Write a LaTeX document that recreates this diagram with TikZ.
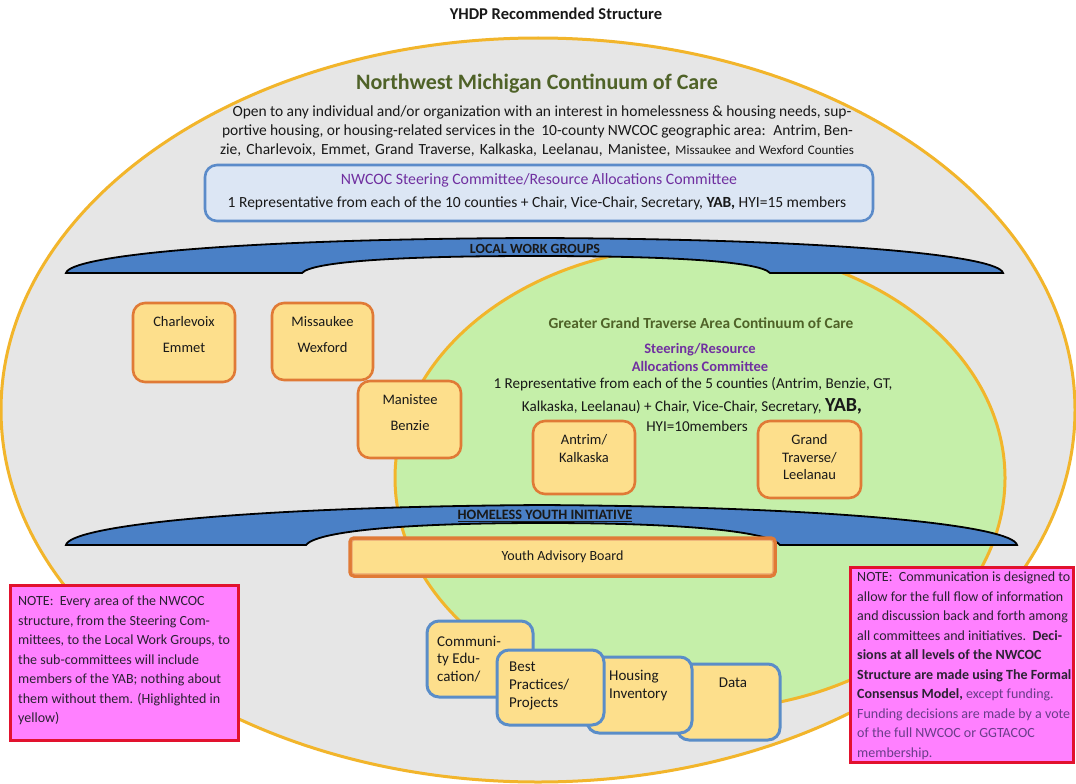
\documentclass[tikz,border=0pt]{standalone}
\usepackage{fontspec}
\setmainfont{Carlito}
\definecolor{gold}{HTML}{F2B52B}
\definecolor{greyfill}{HTML}{E6E6E6}
\definecolor{greenfill}{HTML}{C5EFA9}
\definecolor{arcblue}{HTML}{4A80C6}
\definecolor{steerfill}{HTML}{DCE6F4}
\definecolor{steerline}{HTML}{5B8BC9}
\definecolor{boxfill}{HTML}{FDDF8C}
\definecolor{boxorange}{HTML}{E07A36}
\definecolor{boxblue}{HTML}{5A8DC8}
\definecolor{notefill}{HTML}{FF80FF}
\definecolor{notered}{HTML}{E2122E}
\definecolor{olive}{HTML}{4F6228}
\definecolor{purp}{HTML}{7030A0}
\definecolor{notetext}{HTML}{2B2233}
\definecolor{notepurp}{HTML}{6A3D8A}
\begin{document}
\begin{tikzpicture}[x=1pt,y=-1pt,
  txt/.style={inner sep=0pt, text=black!90, font=\fontsize{15.5}{18}\selectfont},
  county/.style={draw=boxorange, fill=boxfill, line width=2.6pt, rounded corners=12pt, inner sep=0pt},
  subbox/.style={draw=boxblue, fill=boxfill, line width=3pt, rounded corners=12pt, inner sep=0pt},
  arcband/.style={fill=arcblue, draw=black, line width=1.8pt},
  note/.style={draw=notered, fill=notefill, line width=3pt, inner sep=0pt},
  notetxt/.style={inner sep=0pt, anchor=west, align=left, text=notetext, font=\fontsize{14}{19.5}\selectfont}]
\useasboundingbox (0,0) rectangle (1076,784);
\fill[white] (0,0) rectangle (1076,784);
% ellipses
\draw[gold, line width=3pt, fill=greyfill] (538,410) ellipse [x radius=537, y radius=372];
\draw[gold, line width=3pt, fill=greenfill] (700,478) ellipse [x radius=305, y radius=232];
% title
\node[txt, font=\bfseries\fontsize{16.5}{19}\selectfont] (title) at (556,14) {YHDP Recommended Structure};
% NWCOC header
\node[txt, text=olive, font=\bfseries\fontsize{22}{25}\selectfont] (nm) at (537,84) {Northwest Michigan Continuum of Care};
\node[txt] (p1) at (542,112) {\makebox[619pt][s]{Open to any individual and/or organization with an interest in homelessness \& housing needs, sup-}};
\node[txt] (p2) at (537.5,131) {\makebox[631pt][s]{portive housing, or housing-related services in the \ 10-county NWCOC geographic area: \ Antrim, Ben-}};
\node[txt] (p3) at (537,150) {\makebox[634pt][s]{zie, Charlevoix, Emmet, Grand Traverse, Kalkaska, Leelanau, Manistee, {\fontsize{13}{15}\selectfont Missaukee and Wexford Counties}}};
% steering box
\node[draw=steerline, fill=steerfill, line width=2.6pt, rounded corners=12pt, minimum width=668pt, minimum height=56pt] (steer) at (539,193) {};
\node[txt, text=purp, font=\fontsize{15.8}{18}\selectfont] (steerT) at (539,180) {NWCOC Steering Committee/Resource Allocations Committee};
\node[txt] (steerR) at (537,203) {1 Representative from each of the 10 counties + Chair, Vice-Chair, Secretary, \textbf{YAB,} HYI=15 members};
% local work groups band
\draw[arcband] (66,273) .. controls (70,256) and (230,239) .. (535,238) .. controls (840,239) and (999,256) .. (1003,273) -- (770,273) .. controls (760,262) and (680,256) .. (536,256) .. controls (392,256) and (312,262) .. (302,273) -- cycle;
\node[txt, font=\bfseries\fontsize{14}{16}\selectfont] (lwg) at (535,249) {LOCAL WORK GROUPS};
% county boxes
\node[county, minimum width=102pt, minimum height=79pt] (cha) at (184,342.5) {};
\node[txt, align=center, font=\fontsize{14.5}{26}\selectfont] (chaT) at (184,335) {Charlevoix\\Emmet};
\node[county, minimum width=101pt, minimum height=77pt] (mis) at (322.5,341.5) {};
\node[txt, align=center, font=\fontsize{14.5}{26}\selectfont] (misT) at (322.5,335) {Missaukee\\Wexford};
\node[county, minimum width=103pt, minimum height=77pt] (man) at (409.5,419.5) {};
\node[txt, align=center, font=\fontsize{14.5}{26}\selectfont] (manT) at (410,413) {Manistee\\Benzie};
% GGTA CoC text
\node[txt, text=olive, font=\bfseries\fontsize{15.4}{18}\selectfont] (gg) at (701,323) {Greater Grand Traverse Area Continuum of Care};
\node[txt, text=purp, align=center, font=\bfseries\fontsize{14.5}{18}\selectfont] (ggS) at (700,357) {Steering/Resource\\Allocations Committee};
\node[txt, font=\fontsize{15.1}{17}\selectfont] (ggR1) at (693,384) {1 Representative from each of the 5 counties (Antrim, Benzie, GT,};
\node[txt, font=\fontsize{15.1}{17}\selectfont] (ggR2) at (692,406) {Kalkaska, Leelanau) + Chair, Vice-Chair, Secretary, {\bfseries\fontsize{20}{22}\selectfont YAB,}};
\node[txt, font=\fontsize{15.1}{17}\selectfont] (ggR3) at (697,426) {HYI=10members};
\node[county, minimum width=102pt, minimum height=73pt] (ant) at (584,457.5) {};
\node[txt, align=center, font=\fontsize{14.5}{17.5}\selectfont] (antT) at (584,448.5) {Antrim/\\Kalkaska};
\node[county, minimum width=103pt, minimum height=77pt] (gt) at (809.5,459.5) {};
\node[txt, align=center, font=\fontsize{14.5}{17.5}\selectfont] (gtT) at (809.5,457.5) {Grand\\Traverse/\\Leelanau};
% homeless youth initiative band
\draw[arcband] (66,545) .. controls (70,526) and (240,507) .. (542,505) .. controls (844,507) and (1013,526) .. (1017,545) -- (780,545) .. controls (770,532) and (690,523) .. (543,523) .. controls (396,523) and (316,532) .. (306,545) -- cycle;
\node[txt, font=\bfseries\fontsize{14.3}{16}\selectfont] (hyi) at (545,516) {\underline{HOMELESS YOUTH INITIATIVE}};
% youth advisory board
\node[draw=boxorange, fill=boxfill, line width=3.5pt, rounded corners=4pt, minimum width=425pt, minimum height=38pt] (yab) at (562.5,557) {};
\draw[boxorange!70, line width=0.9pt, rounded corners=2pt] ([xshift=4pt,yshift=-4pt]yab.north west) rectangle ([xshift=-4pt,yshift=4pt]yab.south east);
\node[txt, font=\fontsize{14}{16}\selectfont] (yabT) at (562.5,557) {Youth Advisory Board};
% sub-committees
\node[subbox, minimum width=103pt, minimum height=76pt] (data) at (728.5,702) {};
\node[txt, font=\fontsize{15}{18}\selectfont] (dataT) at (733,683) {Data};
\node[subbox, minimum width=105pt, minimum height=76pt] (hou) at (639.5,695) {};
\node[txt, anchor=west, align=left, font=\fontsize{15}{18}\selectfont] (houT) at (609,686) {Housing\\Inventory};
\node[subbox, minimum width=106pt, minimum height=76pt] (com) at (480,659) {};
\node[txt, anchor=west, align=left, font=\fontsize{15}{17.5}\selectfont] (comT) at (437,659) {Communi-\\ty Edu-\\cation/};
\node[subbox, minimum width=107pt, minimum height=75pt] (bp) at (550.5,687.5) {};
\node[txt, anchor=west, align=left, font=\fontsize{15}{18}\selectfont] (bpT) at (509,686) {Best\\Practices/\\Projects};
% notes
\node[note, minimum width=228pt, minimum height=155pt] (noteL) at (124,662.5) {};
\node[notetxt] (noteLT) at (18,660.5) {NOTE:\ \ Every area of the NWCOC\\structure, from the Steering Com-\\mittees, to the Local Work Groups, to\\the sub-committees will include\\members of the YAB; nothing about\\them without them. (Highlighted in\\yellow)};
\node[note, minimum width=223pt, minimum height=195pt] (noteR) at (961.5,664.5) {};
\node[notetxt] (noteRT) at (857,666) {NOTE:\ \ Communication is designed to\\allow for the full flow of information\\and discussion back and forth among\\all committees and initiatives.\ \ \textbf{Deci-}\\\textbf{sions at all levels of the NWCOC}\\\textbf{Structure are made using The Formal}\\\textbf{Consensus Model,} {\color{notepurp}except funding.}\\{\color{notepurp}Funding decisions are made by a vote}\\{\color{notepurp}of the full NWCOC or GGTACOC}\\{\color{notepurp}membership.}};
\end{tikzpicture}
\end{document}
